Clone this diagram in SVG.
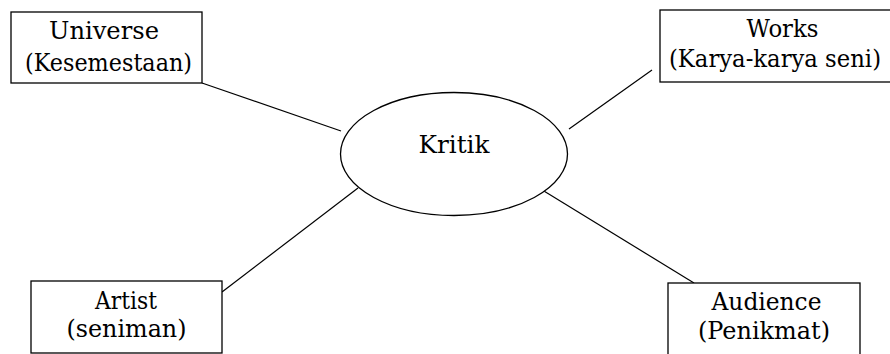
<svg xmlns="http://www.w3.org/2000/svg" width="890" height="354" viewBox="0 0 890 354">
<style>
.box{fill:#fff;stroke:#000;stroke-width:1.3}
.t{font-family:'DejaVu Serif','Liberation Serif','Times New Roman',serif;font-size:25px;fill:#000;text-anchor:middle}
.c line{stroke:#000;stroke-width:1.2}
</style>
<rect width="890" height="354" fill="#fff"/>
<g class="c" id="connectors">
<line x1="202" y1="83" x2="341" y2="131"/>
<line x1="569" y1="129" x2="652" y2="70"/>
<line x1="222" y1="292" x2="358" y2="188"/>
<line x1="539" y1="188" x2="694" y2="283"/>
</g>
<g id="universe">
<rect class="box" x="11" y="12" width="191" height="71"/>
<text class="t" x="104" y="39" textLength="110" lengthAdjust="spacingAndGlyphs">Universe</text>
<text class="t" x="108.5" y="71" textLength="167" lengthAdjust="spacingAndGlyphs">(Kesemestaan)</text>
</g>
<g id="works">
<rect class="box" x="660" y="10" width="240" height="72"/>
<text class="t" x="782.5" y="37" textLength="72" lengthAdjust="spacingAndGlyphs">Works</text>
<text class="t" x="775" y="67" textLength="212" lengthAdjust="spacingAndGlyphs">(Karya-karya seni)</text>
</g>
<g id="kritik">
<ellipse class="box" cx="454" cy="154" rx="113.5" ry="61.5"/>
<text class="t" x="454" y="153" textLength="71" lengthAdjust="spacingAndGlyphs">Kritik</text>
</g>
<g id="artist">
<rect class="box" x="31" y="281" width="191" height="72"/>
<text class="t" x="126" y="309" textLength="62" lengthAdjust="spacingAndGlyphs">Artist</text>
<text class="t" x="126.5" y="337" textLength="120" lengthAdjust="spacingAndGlyphs">(seniman)</text>
</g>
<g id="audience">
<rect class="box" x="668" y="283" width="192" height="80"/>
<text class="t" x="766.5" y="310" textLength="110" lengthAdjust="spacingAndGlyphs">Audience</text>
<text class="t" x="764" y="339" textLength="132" lengthAdjust="spacingAndGlyphs">(Penikmat)</text>
</g>
</svg>
